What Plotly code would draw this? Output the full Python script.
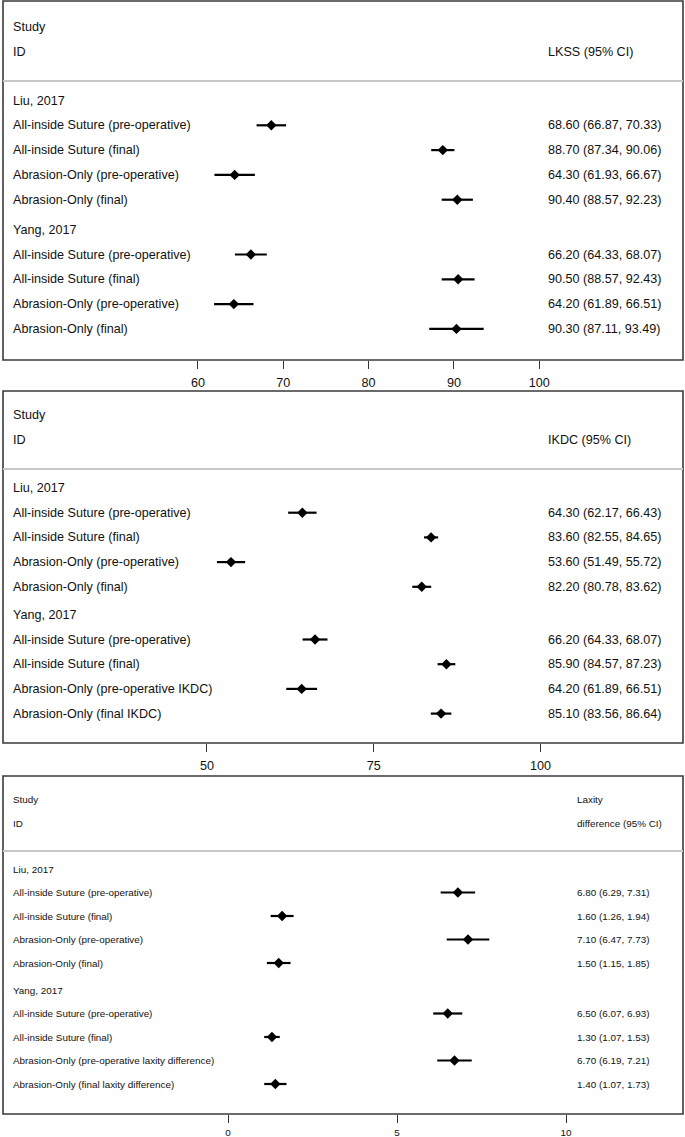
import plotly.graph_objects as go

W, H = 685, 1137

# ---------------- data ----------------
groups = ["Liu, 2017", "Yang, 2017"]

lkss_labels = [
    ["All-inside Suture (pre-operative)", "All-inside Suture (final)",
     "Abrasion-Only (pre-operative)", "Abrasion-Only (final)"],
    ["All-inside Suture (pre-operative)", "All-inside Suture (final)",
     "Abrasion-Only (pre-operative)", "Abrasion-Only (final)"],
]
lkss_est = [[68.60, 88.70, 64.30, 90.40], [66.20, 90.50, 64.20, 90.30]]
lkss_lo = [[66.87, 87.34, 61.93, 88.57], [64.33, 88.57, 61.89, 87.11]]
lkss_hi = [[70.33, 90.06, 66.67, 92.23], [68.07, 92.43, 66.51, 93.49]]
lkss_ticks = [60, 70, 80, 90, 100]

ikdc_labels = [
    ["All-inside Suture (pre-operative)", "All-inside Suture (final)",
     "Abrasion-Only (pre-operative)", "Abrasion-Only (final)"],
    ["All-inside Suture (pre-operative)", "All-inside Suture (final)",
     "Abrasion-Only (pre-operative IKDC)", "Abrasion-Only (final IKDC)"],
]
ikdc_est = [[64.30, 83.60, 53.60, 82.20], [66.20, 85.90, 64.20, 85.10]]
ikdc_lo = [[62.17, 82.55, 51.49, 80.78], [64.33, 84.57, 61.89, 83.56]]
ikdc_hi = [[66.43, 84.65, 55.72, 83.62], [68.07, 87.23, 66.51, 86.64]]
ikdc_ticks = [50, 75, 100]

lax_labels = [
    ["All-inside Suture (pre-operative)", "All-inside Suture (final)",
     "Abrasion-Only (pre-operative)", "Abrasion-Only (final)"],
    ["All-inside Suture (pre-operative)", "All-inside Suture (final)",
     "Abrasion-Only (pre-operative laxity difference)",
     "Abrasion-Only (final laxity difference)"],
]
lax_est = [[6.80, 1.60, 7.10, 1.50], [6.50, 1.30, 6.70, 1.40]]
lax_lo = [[6.29, 1.26, 6.47, 1.15], [6.07, 1.07, 6.19, 1.07]]
lax_hi = [[7.31, 1.94, 7.73, 1.85], [6.93, 1.53, 7.21, 1.73]]
lax_ticks = [0, 5, 10]

# ---------------- layout constants ----------------
FONT = "Arial, Liberation Sans, Helvetica, sans-serif"
BOX_L, BOX_R = 3, 683

panels = [
    dict(labels=lkss_labels, est=lkss_est, lo=lkss_lo, hi=lkss_hi, ticks=lkss_ticks,
         head1="", head2="LKSS (95% CI)", top=1, bottom=360,
         study=26, idl=51, sep=80, first=99.5, step=24.8, gap=30,
         xr=(37.14, 116.86), fs=12.6, valx=546, standoff=3),
    dict(labels=ikdc_labels, est=ikdc_est, lo=ikdc_lo, hi=ikdc_hi, ticks=ikdc_ticks,
         head1="", head2="IKDC (95% CI)", top=391, bottom=743,
         study=24, idl=49, sep=78, first=97, step=24.7, gap=28,
         xr=(19.42, 121.37), fs=12.6, valx=546, standoff=3),
    dict(labels=lax_labels, est=lax_est, lo=lax_lo, hi=lax_hi, ticks=lax_ticks,
         head1="Laxity", head2="difference (95% CI)", top=776, bottom=1114,
         study=23, idl=47, sep=75, first=93, step=23.5, gap=27,
         xr=(-6.657, 13.46), fs=9.9, valx=575, standoff=1),
]

fig = go.Figure()
annotations = []
shapes = []


def txt(x, y, yref, text, fs):
    return dict(x=x / W, xref="paper", y=y, yref=yref, text=text, showarrow=False,
                xanchor="left", yanchor="middle",
                font=dict(family=FONT, size=fs, color="#111"))


for k, p in enumerate(panels):
    n = k + 1
    xa = "x" if n == 1 else f"x{n}"
    ya = "y" if n == 1 else f"y{n}"
    xkey = "xaxis" if n == 1 else f"xaxis{n}"
    ykey = "yaxis" if n == 1 else f"yaxis{n}"
    span = p["bottom"] - p["top"]

    ys, xs, lo_err, hi_err = [], [], [], []
    y = p["first"]
    for g, gname in enumerate(groups):
        if g > 0:
            y += p["gap"]
        annotations.append(txt(11, y, ya, gname, p["fs"]))
        for i, lab in enumerate(p["labels"][g]):
            y += p["step"]
            e, lo, hi = p["est"][g][i], p["lo"][g][i], p["hi"][g][i]
            ys.append(y)
            xs.append(e)
            lo_err.append(e - lo)
            hi_err.append(hi - e)
            annotations.append(txt(11, y, ya, lab, p["fs"]))
            annotations.append(txt(p["valx"], y, ya,
                                   f"{e:.2f} ({lo:.2f}, {hi:.2f})", p["fs"]))

    fig.add_trace(go.Scatter(
        x=xs, y=ys, xaxis=xa, yaxis=ya, mode="markers",
        marker=dict(symbol="diamond", size=8, color="black"),
        error_x=dict(type="data", symmetric=False, array=hi_err, arrayminus=lo_err,
                     thickness=2.2, width=0, color="black"),
        showlegend=False, hoverinfo="skip"))

    annotations.append(txt(11, p["study"], ya, "Study", p["fs"]))
    annotations.append(txt(11, p["idl"], ya, "ID", p["fs"]))
    if p["head1"]:
        annotations.append(txt(p["valx"], p["study"], ya, p["head1"], p["fs"]))
    annotations.append(txt(p["valx"], p["idl"], ya, p["head2"], p["fs"]))

    shapes.append(dict(type="rect", xref="paper", yref="paper",
                       x0=BOX_L / W, x1=BOX_R / W,
                       y0=1 - p["bottom"] / H, y1=1 - p["top"] / H,
                       line=dict(color="#3a3a3a", width=1.6), fillcolor="rgba(0,0,0,0)"))
    shapes.append(dict(type="line", xref="paper", yref=ya,
                       x0=BOX_L / W, x1=BOX_R / W, y0=p["sep"], y1=p["sep"],
                       line=dict(color="#c8c8c8", width=2)))

    fig.update_layout({
        xkey: dict(domain=[BOX_L / W, BOX_R / W], range=list(p["xr"]),
                   anchor=ya, tickvals=p["ticks"], ticks="outside", ticklen=8,
                   tickwidth=1.3, tickcolor="#333", showgrid=False, zeroline=False,
                   showline=False, fixedrange=True, ticklabelstandoff=p["standoff"],
                   tickfont=dict(family=FONT, size=p["fs"], color="#111")),
        ykey: dict(domain=[1 - p["bottom"] / H, 1 - p["top"] / H],
                   range=[span, 0], anchor=xa, visible=False, fixedrange=True,
                   showgrid=False, zeroline=False),
    })

fig.update_layout(width=W, height=H, margin=dict(l=0, r=0, t=0, b=0),
                  paper_bgcolor="white", plot_bgcolor="rgba(0,0,0,0)",
                  annotations=annotations, shapes=shapes, showlegend=False)

fig.write_html("out.html", config={"displayModeBar": False},
               post_script="document.body.style.margin='0';"
                           "document.body.style.overflow='hidden';")
